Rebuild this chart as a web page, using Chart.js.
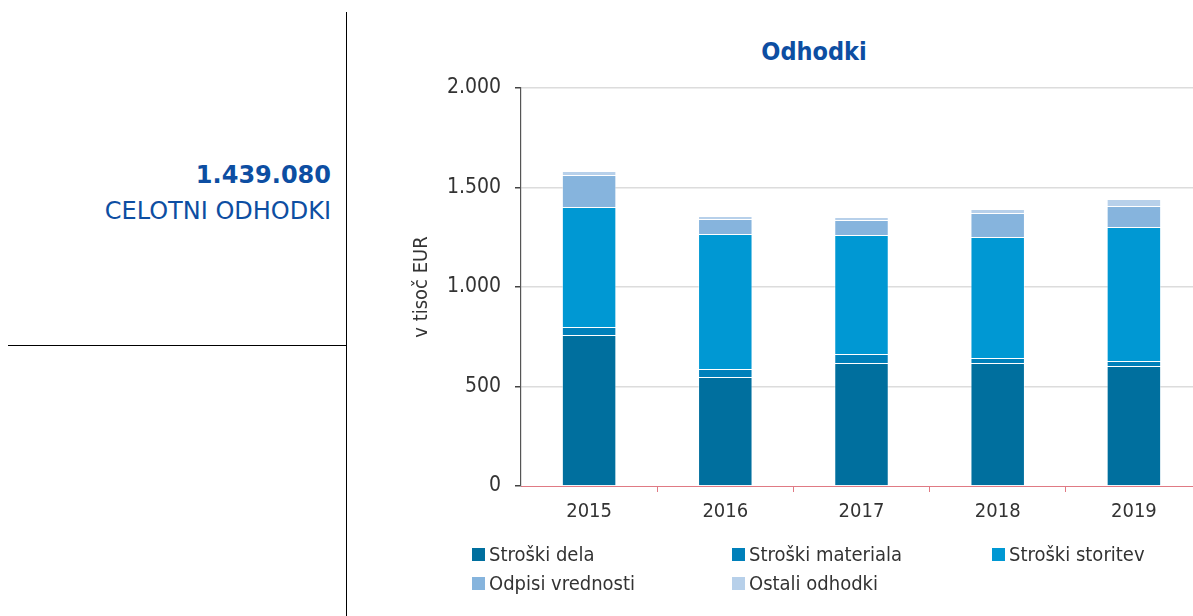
<!DOCTYPE html>
<html>
<head>
<meta charset="utf-8">
<script src="https://cdn.jsdelivr.net/npm/chart.js@4/dist/chart.umd.min.js"></script>
<style>
  html, body { margin: 0; padding: 0; background: #fff; overflow: hidden; }
  body { width: 1193px; height: 616px; position: relative; font-family: 'DejaVu Sans Condensed', 'DejaVu Sans', sans-serif; }
  .vline { position: absolute; left: 346px; top: 12px; width: 1px; height: 604px; background: #000; }
  .hline { position: absolute; left: 8px; top: 345px; width: 339px; height: 1px; background: #000; }
  .total { position: absolute; right: 862px; top: 158px; text-align: right; color: #0d4ea2; font-family: 'DejaVu Sans', sans-serif; }
  .total .num { font-weight: bold; font-size: 24px; line-height: 34px; }
  .total .lbl { font-size: 24px; line-height: 34px; margin-top: 2px; }
  .title { position: absolute; left: 700px; width: 228px; top: 37px; text-align: center; color: #0d4ea2; font-weight: bold; font-size: 25px; }
  .wrap { position: absolute; left: 350px; top: 0; width: 860px; height: 616px; }
  .legend { position: absolute; left: 472px; top: 540px; width: 720px; font-size: 20px; color: #333; }
  .legend .item { position: absolute; white-space: nowrap; display: flex; align-items: center; height: 28px; }
  .legend .box { width: 13px; height: 13px; margin-right: 4px; }
</style>
</head>
<body>
<div class="vline"></div>
<div class="hline"></div>
<div class="total"><div class="num">1.439.080</div><div class="lbl">CELOTNI ODHODKI</div></div>
<div class="title">Odhodki</div>
<div class="wrap"><canvas id="c"></canvas></div>
<div class="legend" id="legend"></div>
<script>
const years = ['2015', '2016', '2017', '2018', '2019'];
const strokiDela = [759, 548, 618, 618, 603];
const strokiMateriala = [40, 40, 45, 25, 25];
const strokiStoritev = [603, 678, 598, 608, 674];
const odpisiVrednosti = [161, 76, 76, 121, 105];
const ostaliOdhodki = [20, 15, 15, 20, 35];
const yTickLabels = ['0', '500', '1.000', '1.500', '2.000'];

const font = "'DejaVu Sans Condensed', 'DejaVu Sans', sans-serif";
Chart.defaults.font.family = font;
Chart.defaults.color = '#333';

const series = [
  { label: 'Stroški dela', data: strokiDela, color: '#006f9e' },
  { label: 'Stroški materiala', data: strokiMateriala, color: '#0080ba' },
  { label: 'Stroški storitev', data: strokiStoritev, color: '#0098d3' },
  { label: 'Odpisi vrednosti', data: odpisiVrednosti, color: '#86b4dd' },
  { label: 'Ostali odhodki', data: ostaliOdhodki, color: '#b7d0ea' },
];

const chart = new Chart(document.getElementById('c'), {
  type: 'bar',
  data: {
    labels: years,
    datasets: series.map((s) => ({
      label: s.label,
      data: s.data,
      backgroundColor: s.color,
      borderColor: 'rgba(255,255,255,0.45)',
      borderWidth: 1,
      barPercentage: 0.4,
      categoryPercentage: 1,
    })),
  },
  options: {
    responsive: true,
    maintainAspectRatio: false,
    animation: false,
    layout: { padding: { top: 88, right: 8, left: 0, bottom: 0 } },
    plugins: {
      legend: { display: false },
      tooltip: { enabled: false },
    },
    scales: {
      x: {
        stacked: true,
        afterFit: (scale) => { scale.height = 130; },
        border: { color: '#e07a84', width: 1 },
        grid: {
          offset: true,
          drawOnChartArea: false,
          color: (ctx) => (ctx.index === 0 ? 'rgba(0,0,0,0)' : '#e07a84'),
          tickLength: 6,
        },
        ticks: { font: { size: 20 }, color: '#333', padding: 8 },
      },
      y: {
        stacked: true,
        min: 0,
        max: 2000,
        afterFit: (scale) => { scale.width = 171; },
        border: { color: '#555', width: 1.2 },
        grid: {
          color: (ctx) => (ctx.tick && ctx.tick.value === 0 ? 'rgba(0,0,0,0)' : '#dcdcdc'),
          tickColor: '#444',
          tickLength: 6,
          lineWidth: 1.5,
        },
        ticks: {
          stepSize: 500,
          font: { size: 21 },
          color: '#333',
          padding: 14,
          callback: (v) => yTickLabels[v / 500],
        },
        title: {
          display: true,
          text: 'v tisoč EUR',
          font: { size: 20 },
          color: '#333',
          padding: { top: 60, bottom: 0 },
        },
      },
    },
  },
});

// legend in three columns like the original
const legend = document.getElementById('legend');
series.forEach((s, i) => {
  const item = document.createElement('div');
  item.className = 'item';
  item.style.left = (i % 3) * 260 + 'px';
  item.style.top = Math.floor(i / 3) * 29 + 'px';
  item.innerHTML = '<span class="box" style="background:' + s.color + '"></span>' + s.label;
  legend.appendChild(item);
});
</script>
</body>
</html>
